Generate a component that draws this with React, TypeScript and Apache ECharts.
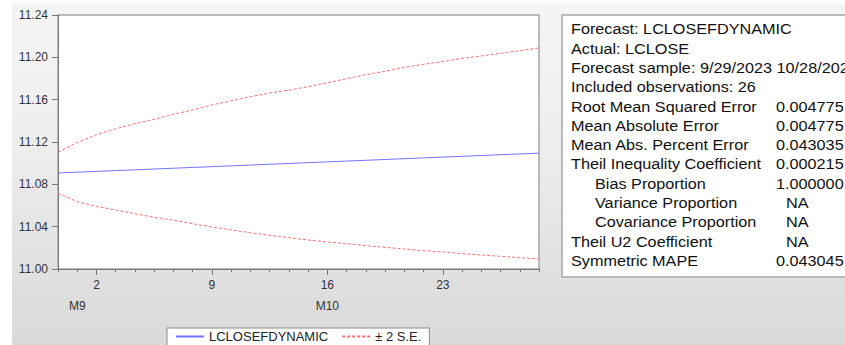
import React, { useEffect, useRef } from "react";
import * as echarts from "echarts";

const dates = [
  "9/29", "9/30", "10/2", "10/3", "10/4", "10/5", "10/6", "10/7", "10/9", "10/10",
  "10/11", "10/12", "10/13", "10/14", "10/16", "10/17", "10/18", "10/19", "10/20", "10/21",
  "10/23", "10/24", "10/25", "10/26", "10/27", "10/28",
];
const dayLabelIdx = [2, 8, 14, 20];
const monthLabelIdx = [1, 14];
const monthLabels = ["M9", "M10"];

const forecast = [
  11.0907, 11.0915, 11.0922, 11.093, 11.0937, 11.0945, 11.0952, 11.096, 11.0967, 11.0975,
  11.0982, 11.099, 11.0997, 11.1005, 11.1012, 11.102, 11.1027, 11.1035, 11.1042, 11.105,
  11.1057, 11.1065, 11.1072, 11.108, 11.1087, 11.1095,
];
const upper = [
  11.1103, 11.1195, 11.127, 11.1325, 11.1373, 11.1414, 11.1462, 11.1502, 11.155, 11.159,
  11.1628, 11.1663, 11.169, 11.1723, 11.176, 11.1798, 11.1836, 11.1868, 11.1906, 11.1934,
  11.196, 11.199, 11.2013, 11.2038, 11.2063, 11.2088,
];
const lower = [
  11.0715, 11.0636, 11.0592, 11.0557, 11.0523, 11.0488, 11.0462, 11.0428, 11.0397, 11.0369,
  11.0343, 11.0318, 11.0296, 11.0274, 11.0255, 11.024, 11.022, 11.0205, 11.0189, 11.0173,
  11.016, 11.0145, 11.0132, 11.012, 11.0107, 11.0094,
];

const statRows: [string, string, boolean][] = [
  ["Forecast: LCLOSEFDYNAMIC", "", false],
  ["Actual: LCLOSE", "", false],
  ["Forecast sample: 9/29/2023 10/28/2023", "", false],
  ["Included observations: 26", "", false],
  ["Root Mean Squared Error", "0.004775", false],
  ["Mean Absolute Error", "0.004775", false],
  ["Mean Abs. Percent Error", "0.043035", false],
  ["Theil Inequality Coefficient", "0.000215", false],
  ["Bias Proportion", "1.000000", true],
  ["Variance Proportion", "NA", true],
  ["Covariance Proportion", "NA", true],
  ["Theil U2 Coefficient", "NA", false],
  ["Symmetric MAPE", "0.043045", false],
];

const FONT = "'Liberation Sans', Arial, sans-serif";

export default function App() {
  const ref = useRef<HTMLDivElement>(null);
  useEffect(() => {
    if (!ref.current) return;
    const chart = echarts.init(ref.current, undefined, { renderer: "svg" });

    const graphics: any[] = [
      {
        type: "rect",
        shape: { x: 562, y: 15, width: 320, height: 262 },
        style: { fill: "#ffffff", stroke: "#a6a6a6", lineWidth: 1.5 },
        z: 1,
      },
    ];
    statRows.forEach((r, k) => {
      const y = 29 + 19.33 * k;
      graphics.push({
        type: "text",
        x: r[2] ? 595 : 571,
        y,
        scaleX: 1.12,
        z: 2,
        style: {
          text: r[0],
          fontSize: 14.5,
          fontFamily: FONT,
          fill: "#111111",
          verticalAlign: "middle",
        },
      });
      if (r[1]) {
        graphics.push({
          type: "text",
          x: r[1] === "NA" ? 786 : 776,
          y,
          scaleX: 1.12,
          z: 2,
          style: {
            text: r[1],
            fontSize: 14.5,
            fontFamily: FONT,
            fill: "#111111",
            verticalAlign: "middle",
          },
        });
      }
    });

    chart.setOption({
      animation: false,
      grid: {
        left: 58,
        right: 306,
        top: 15,
        bottom: 76,
        show: true,
        backgroundColor: "#ffffff",
        borderColor: "#a6a6a6",
        borderWidth: 1.5,
      },
      legend: {
        left: 167,
        top: 328,
        padding: [2, 8, 8, 8],
        itemWidth: 28,
        itemHeight: 14,
        itemGap: 13,
        backgroundColor: "#ffffff",
        borderColor: "#8a8a8a",
        borderWidth: 1,
        itemStyle: { opacity: 0 },
        textStyle: { fontSize: 13, fontFamily: FONT, color: "#222" },
        data: ["LCLOSEFDYNAMIC", "± 2 S.E."],
      },
      xAxis: [
        {
          type: "category",
          data: dates,
          boundaryGap: false,
          axisLine: { lineStyle: { color: "#7a7a7a", width: 1 } },
          axisTick: { interval: 0, length: 3, lineStyle: { color: "#7a7a7a" } },
          axisLabel: {
            interval: (i: number) => dayLabelIdx.indexOf(i) >= 0,
            formatter: (v: string) => v.split("/")[1],
            margin: 10,
            fontSize: 12,
            fontFamily: FONT,
            color: "#333",
          },
          splitLine: { show: false },
        },
        {
          type: "category",
          data: dates,
          boundaryGap: false,
          position: "bottom",
          axisLine: { show: false },
          axisTick: {
            interval: (i: number) => dayLabelIdx.indexOf(i) >= 0,
            length: 6,
            lineStyle: { color: "#7a7a7a" },
          },
          axisLabel: {
            interval: (i: number) => monthLabelIdx.indexOf(i) >= 0,
            formatter: (_v: string, i: number) => {
              const k = monthLabelIdx.indexOf(i);
              return k >= 0 ? monthLabels[k] : "";
            },
            margin: 31,
            fontSize: 12,
            fontFamily: FONT,
            color: "#333",
          },
          splitLine: { show: false },
        },
      ],
      yAxis: {
        type: "value",
        min: 11.0,
        max: 11.24,
        interval: 0.04,
        axisLine: { show: true, lineStyle: { color: "#7a7a7a", width: 1 } },
        axisTick: { show: true, length: 6, lineStyle: { color: "#7a7a7a" } },
        axisLabel: {
          formatter: (v: number) => v.toFixed(2),
          margin: 10,
          fontSize: 12,
          fontFamily: FONT,
          color: "#333",
        },
        splitLine: { show: false },
      },
      series: [
        {
          name: "LCLOSEFDYNAMIC",
          type: "line",
          data: forecast,
          symbol: "none",
          itemStyle: { color: "#7373ff" },
          lineStyle: { color: "#7373ff", width: 1 },
        },
        {
          name: "± 2 S.E.",
          type: "line",
          data: upper,
          symbol: "none",
          itemStyle: { color: "#ff6e6e" },
          lineStyle: { color: "#ff6e6e", width: 1, type: [3, 2] },
        },
        {
          name: "± 2 S.E.",
          type: "line",
          data: lower,
          symbol: "none",
          itemStyle: { color: "#ff6e6e" },
          lineStyle: { color: "#ff6e6e", width: 1, type: [3, 2] },
        },
      ],
      graphic: graphics,
    });
    return () => chart.dispose();
  }, []);

  return (
    <div style={{ position: "fixed", left: 0, top: 0, width: 845, height: 345, background: "#ffffff", overflow: "hidden" }}>
      <div
        style={{
          position: "absolute",
          left: 12,
          top: 3,
          right: 0,
          bottom: 0,
          background: "linear-gradient(#f5f5f5, #eeeeee 40%, #d9d9d9)",
        }}
      />
      <div ref={ref} style={{ position: "absolute", left: 0, top: 0, width: 845, height: 345 }} />
    </div>
  );
}
